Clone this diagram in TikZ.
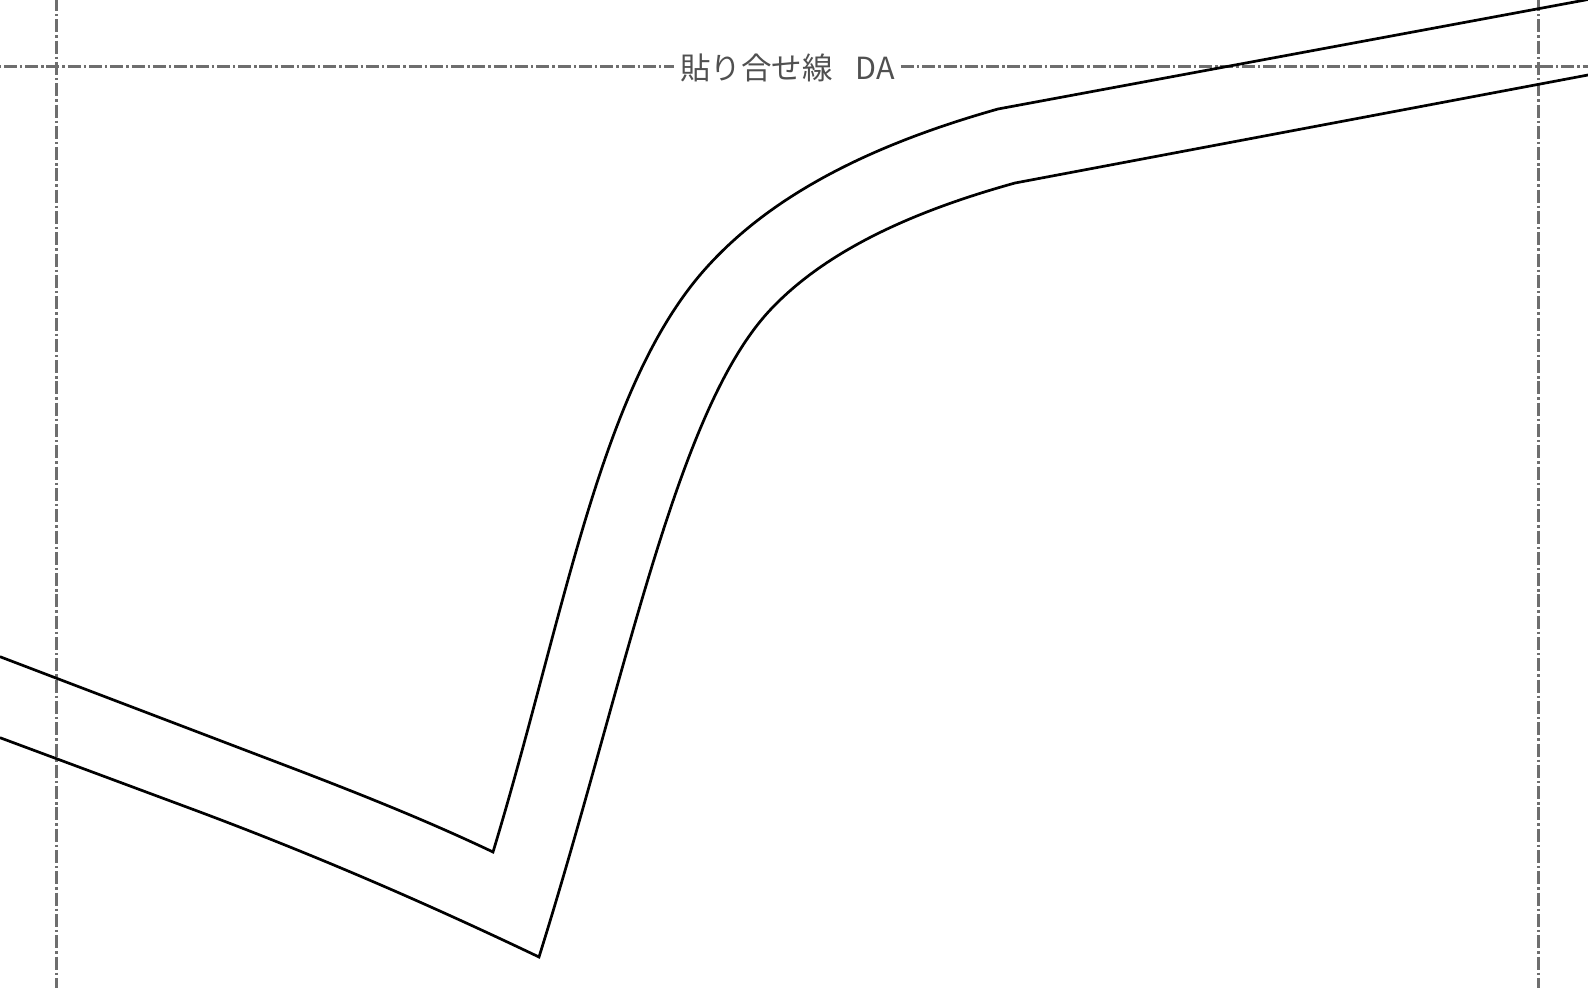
\documentclass[tikz,border=0pt]{standalone}
\usepackage{fontspec}
\newfontfamily\cjk{Noto Sans CJK JP}
\tikzset{
  guide/.style={draw=guidegray,line width=2.9pt,dash pattern=on 13pt off 3pt on 2.4pt off 2.9pt},
  outline/.style={draw=black,line width=2.7pt,line join=miter},
  labeltext/.style={text=labelgray,inner xsep=6pt,inner ysep=2pt,fill=white,font=\cjk\fontsize{30.5}{33}\selectfont}
}
\definecolor{guidegray}{HTML}{6E6E6E}
\definecolor{labelgray}{HTML}{505050}
\begin{document}
\begin{tikzpicture}[x=1pt,y=-1pt]
\useasboundingbox (0,0) rectangle (1588,988);
\node[labeltext,anchor=center] (da) at (787.5,68) {貼り合せ線\hspace{0.75em}DA};
\coordinate (hl) at (0,66.5);
\coordinate (hr) at (1588,66.5);
\coordinate (v1t) at (56.5,0);
\coordinate (v1b) at (56.5,988);
\coordinate (v2t) at (1538.5,0);
\coordinate (v2b) at (1538.5,988);
\draw[guide,dash phase=17.5pt] (hl) -- (da.west |- hl);
\draw[guide] (da.east |- hr) -- (hr);
\draw[guide,dash phase=2pt] (v1t) -- (v1b);
\draw[guide,dash phase=2pt] (v2t) -- (v2b);
\draw[outline] (0,656.7) -- (300,771) .. controls (365,796) and (430,822) .. (493,852)
  .. controls (565.5,613) and (600,385) .. (707,267)
  .. controls (781,185) and (892,139) .. (998,109) -- (1588,-0.5);
\draw[outline] (0,737.7) -- (200,812) .. controls (320,857) and (430,905) .. (539,957)
  .. controls (628,672) and (676.4,406) .. (773,307)
  .. controls (833,245) and (925,208) .. (1015,183) -- (1588,75);
\end{tikzpicture}
\end{document}
